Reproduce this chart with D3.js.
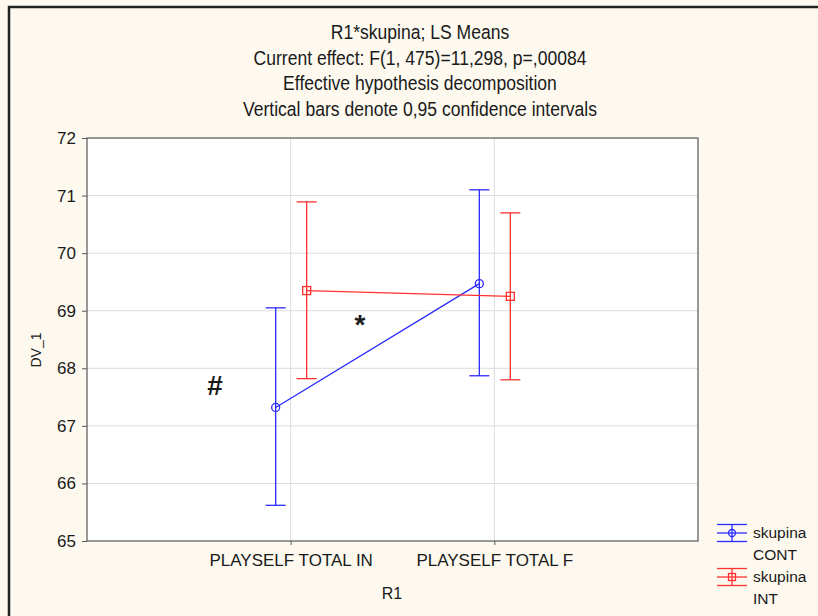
<!DOCTYPE html>
<html>
<head>
<meta charset="utf-8">
<script src="https://cdn.jsdelivr.net/npm/d3@7"></script>
<style>
  body { margin: 0; background: #fdf9ef; }
  svg text { font-family: "Liberation Sans", Arial, sans-serif; fill: #1a1a1a; }
  .ttl { font-family: "Liberation Sans Narrow", "Arial Narrow", "Liberation Sans", sans-serif; font-size: 19.5px; }
</style>
</head>
<body>
<div id="chart"></div>
<script>
// data
var categories = ["PLAYSELF TOTAL IN", "PLAYSELF TOTAL F"];
var groups = ["CONT", "INT"];
var contMean = [67.32, 69.47];
var contLow = [65.62, 67.87];
var contHigh = [69.05, 71.10];
var intMean = [69.35, 69.25];
var intLow = [67.82, 67.80];
var intHigh = [70.89, 70.70];
var yTicks = [65, 66, 67, 68, 69, 70, 71, 72];
var titleLines = [
    "R1*skupina; LS Means",
    "Current effect: F(1, 475)=11,298, p=,00084",
    "Effective hypothesis decomposition",
    "Vertical bars denote 0,95 confidence intervals"
];

var svgWidth = 818;
var svgHeight = 616;
var margin = {top: 138, right: 120, bottom: 75, left: 87};
var chartWidth = 698 - margin.left;
var chartHeight = 541 - margin.top;

var svg = d3.select("#chart")
    .append("svg")
    .attr("width", svgWidth)
    .attr("height", svgHeight);

// outer frame
svg.append("rect")
    .attr("x", 9).attr("y", 7)
    .attr("width", 830).attr("height", 640)
    .attr("fill", "#fdf9ef")
    .attr("stroke", "#222")
    .attr("stroke-width", 2.5);

// title, condensed like the original narrow font
svg.selectAll(".ttl")
    .data(titleLines)
    .enter()
    .append("text")
    .attr("class", "ttl")
    .attr("transform", (d, i) => `translate(420,${39 + i * 25.5})scale(0.9,1)`)
    .attr("text-anchor", "middle")
    .text(d => d);

var chartGroup = svg.append("g")
    .attr("transform", `translate(${margin.left},${margin.top})`);

var xScale = d3.scalePoint()
    .domain(categories)
    .range([0, chartWidth])
    .padding(1);

var yScale = d3.scaleLinear()
    .domain([65, 72])
    .range([chartHeight, 0]);

chartGroup.append("rect")
    .attr("width", chartWidth)
    .attr("height", chartHeight)
    .attr("fill", "#fff");

// grid
chartGroup.selectAll(".hgrid")
    .data(yTicks.slice(1, -1))
    .enter()
    .append("line")
    .attr("x1", 0).attr("x2", chartWidth)
    .attr("y1", d => yScale(d)).attr("y2", d => yScale(d))
    .attr("stroke", "#dcdcdc").attr("stroke-width", 1);

chartGroup.selectAll(".vgrid")
    .data(categories)
    .enter()
    .append("line")
    .attr("x1", d => xScale(d)).attr("x2", d => xScale(d))
    .attr("y1", 0).attr("y2", chartHeight)
    .attr("stroke", "#dcdcdc").attr("stroke-width", 1);

chartGroup.append("rect")
    .attr("width", chartWidth)
    .attr("height", chartHeight)
    .attr("fill", "none")
    .attr("stroke", "#555")
    .attr("stroke-width", 1.2);

// axes
var leftAxis = d3.axisLeft(yScale).tickValues(yTicks).tickFormat(d3.format("d")).tickSize(5).tickPadding(6);
var yAxis = chartGroup.append("g").call(leftAxis);
yAxis.select(".domain").remove();
yAxis.selectAll("line").attr("stroke", "#555");
yAxis.selectAll("text").attr("font-size", "17px").attr("fill", "#1a1a1a")
    .attr("font-family", "Liberation Sans, Arial, sans-serif");

var bottomAxis = d3.axisBottom(xScale).tickSize(4).tickPadding(9);
var xAxis = chartGroup.append("g")
    .attr("transform", `translate(0,${chartHeight})`)
    .call(bottomAxis);
xAxis.select(".domain").remove();
xAxis.selectAll("line").attr("stroke", "#555");
xAxis.selectAll("text").attr("font-size", "17px").attr("fill", "#1a1a1a")
    .attr("font-family", "Liberation Sans, Arial, sans-serif");

svg.append("text")
    .attr("x", 392).attr("y", 599)
    .attr("text-anchor", "middle")
    .attr("font-size", "16px")
    .text("R1");

svg.append("text")
    .attr("transform", "translate(41,350)rotate(-90)")
    .attr("text-anchor", "middle")
    .attr("font-size", "14px")
    .text("DV_1");

// series
var series = [
    {name: "CONT", color: "#2a2aff", mean: contMean, low: contLow, high: contHigh, dx: -15},
    {name: "INT", color: "#ff3030", mean: intMean, low: intLow, high: intHigh, dx: 16}
];

series.forEach(function(s) {
    var pts = categories.map((c, i) => ({x: xScale(c) + s.dx, m: s.mean[i], lo: s.low[i], hi: s.high[i]}));
    var g = chartGroup.append("g");

    g.append("path")
        .datum(pts)
        .attr("fill", "none")
        .attr("stroke", s.color)
        .attr("stroke-width", 1.3)
        .attr("d", d3.line().x(d => d.x).y(d => yScale(d.m)));

    g.selectAll(".bar")
        .data(pts)
        .enter()
        .append("line")
        .attr("x1", d => d.x).attr("x2", d => d.x)
        .attr("y1", d => yScale(d.lo)).attr("y2", d => yScale(d.hi))
        .attr("stroke", s.color).attr("stroke-width", 1.3);

    ["lo", "hi"].forEach(function(k) {
        g.selectAll(".cap" + k)
            .data(pts)
            .enter()
            .append("line")
            .attr("x1", d => d.x - 10).attr("x2", d => d.x + 10)
            .attr("y1", d => yScale(d[k])).attr("y2", d => yScale(d[k]))
            .attr("stroke", s.color).attr("stroke-width", 1.3);
    });

    if (s.name === "CONT") {
        g.selectAll(".mk")
            .data(pts)
            .enter()
            .append("circle")
            .attr("cx", d => d.x).attr("cy", d => yScale(d.m))
            .attr("r", 4)
            .attr("fill", "none")
            .attr("stroke", s.color).attr("stroke-width", 1.3);
    } else {
        g.selectAll(".mk")
            .data(pts)
            .enter()
            .append("rect")
            .attr("x", d => d.x - 4).attr("y", d => yScale(d.m) - 4)
            .attr("width", 8).attr("height", 8)
            .attr("fill", "none")
            .attr("stroke", s.color).attr("stroke-width", 1.3);
    }
});

// annotations
svg.append("text")
    .attr("x", 215).attr("y", 395)
    .attr("text-anchor", "middle")
    .attr("font-size", "28px")
    .attr("font-weight", "bold")
    .text("#");

svg.append("text")
    .attr("x", 360).attr("y", 334)
    .attr("text-anchor", "middle")
    .attr("font-size", "28px")
    .attr("font-weight", "bold")
    .text("*");

// legend
series.forEach(function(s, i) {
    var cy = 533 + i * 44;
    var lg = svg.append("g");
    [-8.5, 0, 8.5].forEach(function(o) {
        lg.append("line")
            .attr("x1", 717).attr("x2", 747)
            .attr("y1", cy + o).attr("y2", cy + o)
            .attr("stroke", s.color).attr("stroke-width", 1.3);
    });
    lg.append("line")
        .attr("x1", 732).attr("x2", 732)
        .attr("y1", cy - 8.5).attr("y2", cy + 8.5)
        .attr("stroke", s.color).attr("stroke-width", 1.3);
    if (s.name === "CONT") {
        lg.append("circle").attr("cx", 732).attr("cy", cy).attr("r", 3.5)
            .attr("fill", "none").attr("stroke", s.color).attr("stroke-width", 1.3);
    } else {
        lg.append("rect").attr("x", 728.5).attr("y", cy - 3.5).attr("width", 7).attr("height", 7)
            .attr("fill", "none").attr("stroke", s.color).attr("stroke-width", 1.3);
    }
    lg.append("text").attr("x", 753).attr("y", cy + 5).attr("font-size", "15.5px").text("skupina");
    lg.append("text").attr("x", 753).attr("y", cy + 27).attr("font-size", "15.5px").text(s.name);
});
</script>
</body>
</html>
